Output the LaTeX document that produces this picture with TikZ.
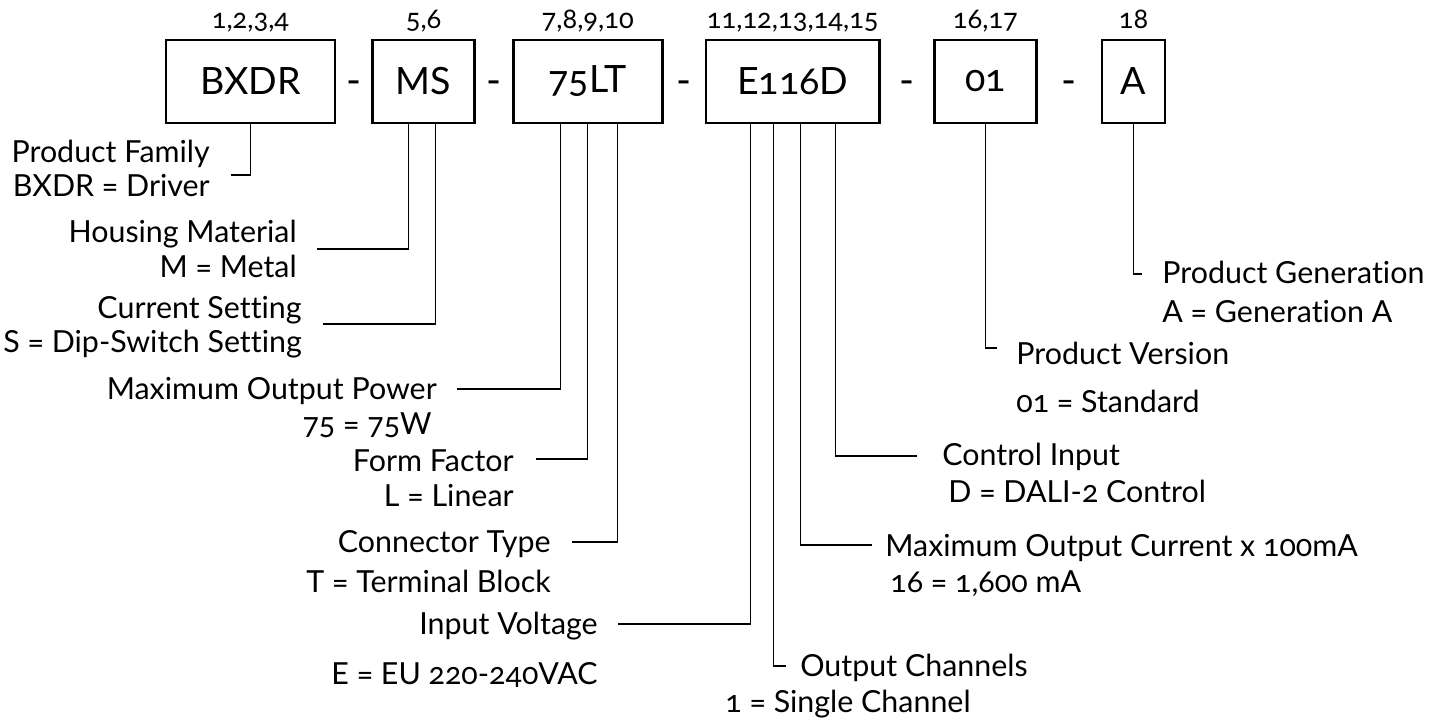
\documentclass[tikz,border=0pt]{standalone}
\usepackage{fontspec}
\setmainfont{Lato}[Numbers=OldStyle, Ligatures=NoCommon]
\usetikzlibrary{positioning,calc}

\begin{document}
\begin{tikzpicture}[
  x=0.02cm, y=-0.02cm,
  every node/.style={inner sep=0pt, font=\fontsize{17.3}{20}\selectfont},
  part/.style={draw, line width=1.5pt, minimum height=1.66cm, font=\fontsize{21.4}{25}\selectfont},
  sep/.style={font=\fontsize{23}{25}\selectfont, yshift=-0.13cm},
  digits/.style={font=\fontsize{15.5}{18}\selectfont, text depth=0pt},
  lbl/.style={anchor=base east},
  lbr/.style={anchor=base west},
  lead/.style={line width=0.6pt}
]
\useasboundingbox[fill=white] (0,0) rectangle (1429,719);

% Code boxes
\node[part, minimum width=3.38cm] (bxdr) at (250.5,81.5) {BXDR};
\node[part, minimum width=2.04cm, right=0.7cm of bxdr] (ms) {MS};
\node[part, minimum width=2.98cm, right=0.72cm of ms] (lt) {75LT};
\node[part, minimum width=3.48cm, right=0.82cm of lt] (eud) {E116D};
\node[part, minimum width=2.04cm, right=1.04cm of eud] (ver) {01};
\node[part, minimum width=1.26cm, right=1.26cm of ver] (gen) {A};

% Dashes
\node[sep] (d1) at ($(bxdr.east)!0.5!(ms.west)$) {-};
\node[sep] (d2) at ($(ms.east)!0.5!(lt.west)$) {-};
\node[sep] (d3) at ($(lt.east)!0.5!(eud.west)$) {-};
\node[sep] (d4) at ($(eud.east)!0.5!(ver.west)$) {-};
\node[sep] (d5) at ($(ver.east)!0.5!(gen.west)$) {-};

% Digit positions
\node[digits, above=0.2cm of bxdr] (p-bxdr) {1,2,3,4};
\node[digits, above=0.2cm of ms] (p-ms) {5,6};
\node[digits, above=0.2cm of lt] (p-lt) {7,8,9,10};
\node[digits, above=0.2cm of eud] (p-eud) {11,12,13,14,15};
\node[digits, above=0.2cm of ver] (p-ver) {16,17};
\node[digits, above=0.2cm of gen] (p-gen) {18};

% Left labels
\node[lbl] (fam) at (210,163) {Product Family};
\node[lbl] (fam-v) at (210,197) {BXDR = Driver};
\node[lbl] (mat) at (297,243) {Housing Material};
\node[lbl] (mat-v) at (297,278) {M = Metal};
\node[lbl] (cur) at (302,318) {Current Setting};
\node[lbl] (cur-v) at (302,353) {S = Dip-Switch Setting};
\node[lbl] (pow) at (437,399) {Maximum Output Power};
\node[lbl] (pow-v) at (432,434) {75 = 75W};
\node[lbl] (form) at (514,471) {Form Factor};
\node[lbl] (form-v) at (514,506) {L = Linear};
\node[lbl] (conn) at (551,552) {Connector Type};
\node[lbl] (conn-v) at (551,592) {T = Terminal Block};
\node[lbl] (volt) at (598,634) {Input Voltage};
\node[lbl] (volt-v) at (598,684) {E = EU 220-240VAC};

% Right labels
\node[lbr] (chan) at (800,676) {Output Channels};
\node[lbr] (chan-v) at (725,712) {1 = Single Channel};
\node[lbr] (amp) at (885,556) {Maximum Output Current x 100mA};
\node[lbr] (amp-v) at (890,592) {16 = 1,600 mA};
\node[lbr] (ctrl) at (942,465) {Control Input};
\node[lbr] (ctrl-v) at (948,502) {D = DALI-2 Control};
\node[lbr] (rev) at (1016,364) {Product Version};
\node[lbr] (rev-v) at (1016,412) {01 = Standard};
\node[lbr] (gent) at (1162,284) {Product Generation};
\node[lbr] (gent-v) at (1162,322) {A = Generation A};

% Leader ends
\coordinate (fam-end) at (231,175);
\coordinate (mat-end) at (317,249);
\coordinate (cur-end) at (323,324);
\coordinate (pow-end) at (457,389);
\coordinate (form-end) at (536,459);
\coordinate (conn-end) at (572,542);
\coordinate (volt-end) at (618,624);
\coordinate (chan-end) at (786,666);
\coordinate (amp-end) at (872,545);
\coordinate (ctrl-end) at (917,456);
\coordinate (rev-end) at (997,348);
\coordinate (gent-end) at (1142,274);

% Leaders
\draw[lead] (bxdr.south) |- (fam-end);
\draw[lead] ($(ms.south)+(-15,0)$) |- (mat-end);
\draw[lead] ($(ms.south)+(12,0)$) |- (cur-end);
\draw[lead] ($(lt.south)+(-27.5,0)$) |- (pow-end);
\draw[lead] (lt.south) |- (form-end);
\draw[lead] ($(lt.south)+(29.5,0)$) |- (conn-end);
\draw[lead] ($(eud.south)+(-42,0)$) |- (volt-end);
\draw[lead] ($(eud.south)+(-19,0)$) |- (chan-end);
\draw[lead] ($(eud.south)+(8,0)$) |- (amp-end);
\draw[lead] ($(eud.south)+(43,0)$) |- (ctrl-end);
\draw[lead] (ver.south) |- (rev-end);
\draw[lead] (gen.south) |- (gent-end);

\end{tikzpicture}
\end{document}
